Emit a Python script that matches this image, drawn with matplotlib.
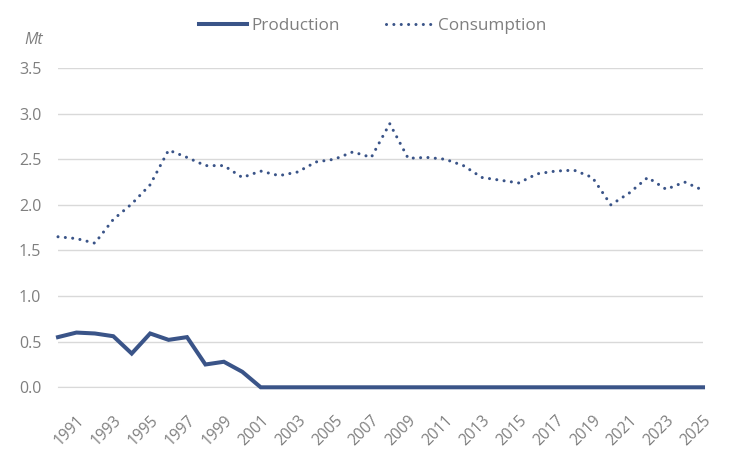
import numpy as np
import matplotlib
matplotlib.use('Agg')
import matplotlib.pyplot as plt

# Annual values, Mt
years = list(range(1990, 2026))
production = [0.55, 0.60, 0.59, 0.56, 0.37, 0.59, 0.52, 0.55, 0.25, 0.28, 0.17,
              0.0, 0.0, 0.0, 0.0, 0.0, 0.0, 0.0, 0.0, 0.0, 0.0, 0.0, 0.0, 0.0,
              0.0, 0.0, 0.0, 0.0, 0.0, 0.0, 0.0, 0.0, 0.0, 0.0, 0.0, 0.0]
consumption = [1.65, 1.63, 1.58, 1.84, 2.01, 2.22, 2.60, 2.52, 2.43, 2.43, 2.30,
               2.37, 2.32, 2.36, 2.47, 2.50, 2.58, 2.52, 2.89, 2.51, 2.52, 2.50,
               2.43, 2.30, 2.27, 2.24, 2.34, 2.37, 2.38, 2.30, 2.00, 2.13, 2.30,
               2.17, 2.25, 2.16]
tick_years = list(range(1991, 2026, 2))

line_color = '#3a5488'
text_color = '#7f7f7f'
grid_color = '#d9d9d9'

plt.rcParams['font.family'] = ['Open Sans', 'DejaVu Sans']

fig = plt.figure(figsize=(7.35, 4.55), dpi=100)
ax = fig.add_axes([58 / 735, 1 - 387.3 / 455, (703 - 58) / 735, (387.3 - 68) / 455])

ax.plot(years, production, color=line_color, lw=2.9, solid_joinstyle='miter',
        label='Production', clip_on=False, zorder=3)
ax.plot(years, consumption, color=line_color, lw=2.2, linestyle=(0, (0.01, 2.4)),
        dash_capstyle='round', label='Consumption', clip_on=False, zorder=3)

ax.set_xlim(1990, 2025)
ax.set_ylim(0, 3.5)
ax.set_yticks(np.arange(0, 3.51, 0.5))
ax.set_yticklabels([f'{v:.1f}' for v in np.arange(0, 3.51, 0.5)])
ax.set_xticks(tick_years)
ax.set_xticklabels([str(y) for y in tick_years], rotation=45, ha='right',
                   va='top', rotation_mode='anchor')

ax.grid(axis='y', color=grid_color, lw=1)
ax.set_axisbelow(True)
for side in ['top', 'right', 'left']:
    ax.spines[side].set_visible(False)
ax.spines['bottom'].set_color(grid_color)
ax.tick_params(axis='both', length=0, labelsize=11.5, colors=text_color)
ax.tick_params(axis='x', labelsize=11.2)
ax.tick_params(axis='y', pad=12)
ax.tick_params(axis='x', pad=18)

fig.text(34 / 735, 1 - 40 / 455, 'Mt', fontsize=11.5, style='italic',
         color=text_color, ha='center', va='center')

fig.legend(loc='center', bbox_to_anchor=(373 / 735, 1 - 26 / 455), ncol=2,
           frameon=False, fontsize=12.3, labelcolor=text_color,
           handlelength=2.8, handletextpad=0.25, columnspacing=2.7)

fig.savefig('out.png', dpi=100)
